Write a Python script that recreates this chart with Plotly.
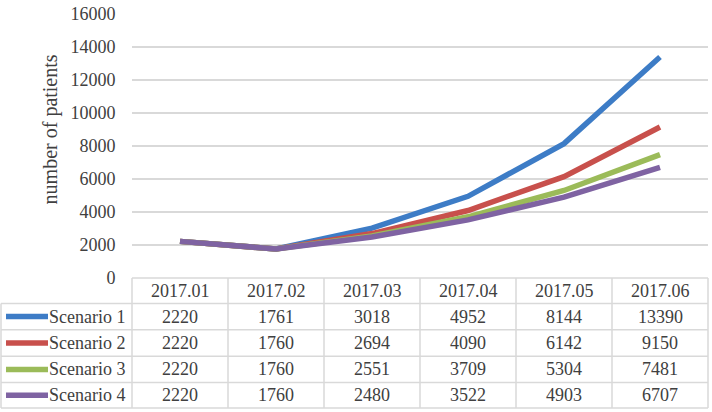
import plotly.graph_objects as go

categories = ["2017.01", "2017.02", "2017.03", "2017.04", "2017.05", "2017.06"]
series_names = ["Scenario 1", "Scenario 2", "Scenario 3", "Scenario 4"]
scenario1 = [2220, 1761, 3018, 4952, 8144, 13390]
scenario2 = [2220, 1760, 2694, 4090, 6142, 9150]
scenario3 = [2220, 1760, 2551, 3709, 5304, 7481]
scenario4 = [2220, 1760, 2480, 3522, 4903, 6707]
y_ticks = [0, 2000, 4000, 6000, 8000, 10000, 12000, 14000, 16000]

series = [scenario1, scenario2, scenario3, scenario4]
colors = ["#3D7CC6", "#C8504C", "#9BBB59", "#7F63A2"]

W, H = 712, 412
L, R, T, B = 132, 4, 8, 134
PH = H - T - B  # plot height in px
PW = W - L - R
FONT = "Liberation Serif, Times New Roman, serif"
GRID = "#D9D9D9"
TXT = "#404040"


def py(ypx):  # pixel y -> paper y
    return (H - B - ypx) / PH


def px(xpx):  # pixel x -> paper x
    return (xpx - L) / PW


fig = go.Figure()
for name, vals, c in zip(series_names, series, colors):
    fig.add_trace(go.Scatter(x=list(range(len(categories))), y=vals, mode="lines",
                             name=name, line=dict(color=c, width=5.5),
                             showlegend=False))

shapes = []
annotations = []

# table geometry (pixels)
row_edges = [278, 304, 331, 358, 385, 411]
col_edges = [L + i * PW / len(categories) for i in range(len(categories) + 1)]

# horizontal lines
shapes.append(dict(type="line", xref="paper", yref="paper", x0=0, x1=1,
                   y0=py(row_edges[0]), y1=py(row_edges[0]), line=dict(color=GRID, width=1.5)))
for yy in row_edges[1:]:
    shapes.append(dict(type="line", xref="paper", yref="paper", x0=px(1), x1=1,
                       y0=py(yy), y1=py(yy), line=dict(color=GRID, width=1.5)))
# vertical lines
for xx in col_edges:
    shapes.append(dict(type="line", xref="paper", yref="paper", x0=px(xx), x1=px(xx),
                       y0=py(row_edges[0]), y1=py(row_edges[-1]), line=dict(color=GRID, width=1.5)))
shapes.append(dict(type="line", xref="paper", yref="paper", x0=px(1), x1=px(1),
                   y0=py(row_edges[1]), y1=py(row_edges[-1]), line=dict(color=GRID, width=1.5)))

# header
for i, cat in enumerate(categories):
    annotations.append(dict(x=i, xref="x", y=py((row_edges[0] + row_edges[1]) / 2), yref="paper",
                            text=cat, showarrow=False, xanchor="center", yanchor="middle",
                            font=dict(family=FONT, size=18, color=TXT)))
# rows
for r, (name, vals, c) in enumerate(zip(series_names, series, colors)):
    yc = py((row_edges[r + 1] + row_edges[r + 2]) / 2)
    shapes.append(dict(type="line", xref="paper", yref="paper", x0=px(6), x1=px(48),
                       y0=yc, y1=yc, line=dict(color=c, width=5.5)))
    annotations.append(dict(x=px(127), xref="paper", y=yc, yref="paper", text=name,
                            showarrow=False, xanchor="right", yanchor="middle",
                            font=dict(family=FONT, size=18, color=TXT)))
    for i, v in enumerate(vals):
        annotations.append(dict(x=i, xref="x", y=yc, yref="paper", text=str(v),
                                showarrow=False, xanchor="center", yanchor="middle",
                                font=dict(family=FONT, size=18, color=TXT)))

# y-axis title
annotations.append(dict(x=px(50), xref="paper", y=py(126), yref="paper",
                        text="number of patients", textangle=-90, showarrow=False,
                        xanchor="center", yanchor="middle",
                        font=dict(family=FONT, size=20, color=TXT)))

fig.update_layout(
    width=W, height=H,
    margin=dict(l=L, r=R, t=T, b=B),
    plot_bgcolor="white", paper_bgcolor="white",
    shapes=shapes, annotations=annotations,
    xaxis=dict(range=[-0.5, len(categories) - 0.5], showticklabels=False, showgrid=False,
               zeroline=False, showline=False, ticks=""),
    yaxis=dict(range=[0, 16000], tickvals=y_ticks, ticktext=[str(t) for t in y_ticks],
               showgrid=True, gridcolor=GRID, gridwidth=1.5, zeroline=False, showline=False,
               ticks="outside", ticklen=12, tickcolor="rgba(0,0,0,0)",
               ticklabeloverflow="allow",
               tickfont=dict(family=FONT, size=18, color="#404040")),
)

fig.write_html("out.html", config={"displayModeBar": False},
               post_script="document.body.style.margin='0';document.body.style.overflow='hidden';")
